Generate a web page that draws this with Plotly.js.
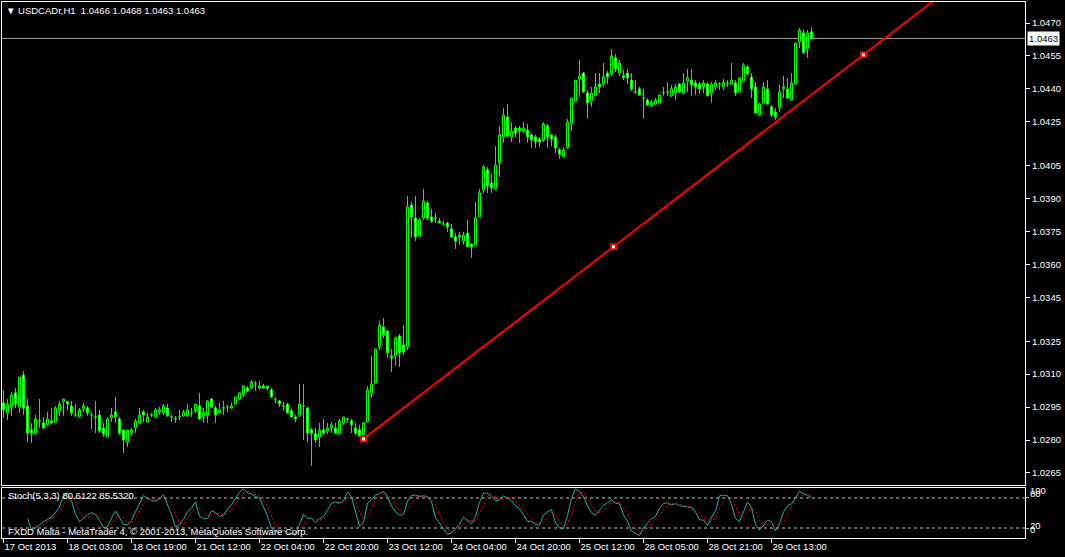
<!DOCTYPE html>
<html><head><meta charset="utf-8">
<script src="https://cdn.plot.ly/plotly-3.0.1.min.js"></script>
<style>html,body{margin:0;padding:0;background:#000;overflow:hidden}#chart{width:1065px;height:557px}</style>
</head><body><div id="chart"></div>
<script>
// USDCADr H1 candles (bar 0 = 17 Oct 2013 11:00 ... bar 202 = 29 Oct 23:00)
const openP = [1.02969,1.02923,1.02951,1.03015,1.02951,1.03096,1.02955,1.02846,1.02828,1.02887,
1.02878,1.02869,1.02887,1.02882,1.02933,1.02974,1.02974,1.02955,1.02914,1.02905,
1.02942,1.02946,1.02914,1.02905,1.02914,1.02855,1.02814,1.02901,1.02928,1.02896,
1.02846,1.02791,1.02832,1.02855,1.02878,1.02928,1.02882,1.02914,1.02905,1.02928,
1.02923,1.02946,1.02905,1.02896,1.02905,1.02910,1.02910,1.02923,1.02933,1.02955,
1.02905,1.02914,1.02987,1.02946,1.02923,1.02946,1.02951,1.02946,1.02964,1.02987,
1.03005,1.03037,1.03037,1.03056,1.03037,1.03046,1.03046,1.03028,1.02983,1.02978,
1.02955,1.02964,1.02933,1.02905,1.02914,1.02955,1.02946,1.02846,1.02828,1.02814,
1.02846,1.02841,1.02855,1.02855,1.02828,1.02878,1.02896,1.02887,1.02855,1.02846,
1.02823,1.02882,1.03010,1.03060,1.03224,1.03315,1.03297,1.03183,1.03183,1.03274,
1.03233,1.03224,1.03871,1.03812,1.03730,1.03812,1.03880,1.03816,1.03812,1.03798,
1.03784,1.03789,1.03762,1.03725,1.03725,1.03707,1.03743,1.03693,1.03689,1.03816,
1.03939,1.04031,1.03971,1.03944,1.04062,1.04181,1.04272,1.04181,1.04222,1.04222,
1.04208,1.04213,1.04190,1.04181,1.04172,1.04167,1.04231,1.04190,1.04181,1.04122,
1.04090,1.04131,1.04240,1.04345,1.04445,1.04472,1.04381,1.04345,1.04372,1.04422,
1.04422,1.04472,1.04468,1.04541,1.04472,1.04459,1.04472,1.04440,1.04386,1.04400,
1.04358,1.04349,1.04322,1.04331,1.04336,1.04381,1.04386,1.04368,1.04381,1.04422,
1.04381,1.04436,1.04440,1.04427,1.04422,1.04409,1.04422,1.04381,1.04409,1.04422,
1.04409,1.04427,1.04422,1.04427,1.04386,1.04436,1.04500,1.04454,1.04409,1.04281,
1.04336,1.04400,1.04318,1.04295,1.04313,1.04400,1.04400,1.04349,1.04422,1.04614,
1.04655,1.04582,1.0466];
const highP = [1.03028,1.02987,1.03019,1.03037,1.03087,1.03115,1.02987,1.02878,1.02914,1.02987,
1.02905,1.02928,1.02946,1.02955,1.02978,1.02987,1.02978,1.02978,1.02964,1.02946,
1.02969,1.02955,1.02928,1.02978,1.02937,1.02878,1.02905,1.02946,1.02996,1.02905,
1.02846,1.02846,1.02855,1.02896,1.02946,1.02937,1.02923,1.02923,1.02946,1.02951,
1.02964,1.02964,1.02914,1.02910,1.02937,1.02937,1.02964,1.02946,1.02964,1.03015,
1.02946,1.02983,1.02992,1.02955,1.02969,1.02978,1.02960,1.02969,1.02996,1.03015,
1.03051,1.03046,1.03074,1.03069,1.03069,1.03056,1.03046,1.03037,1.02996,1.02983,
1.02974,1.02969,1.02942,1.02914,1.03056,1.03056,1.02951,1.02855,1.02855,1.02878,
1.02896,1.02878,1.02882,1.02878,1.02896,1.02905,1.02896,1.02896,1.02878,1.02869,
1.02882,1.03046,1.03183,1.03215,1.03343,1.03356,1.03297,1.03215,1.03270,1.03283,
1.03324,1.03912,1.03885,1.03912,1.03812,1.03944,1.03889,1.03853,1.03835,1.03812,
1.03798,1.03794,1.03784,1.03743,1.03748,1.03748,1.03803,1.03693,1.03885,1.03944,
1.04053,1.04044,1.04012,1.04140,1.04231,1.04313,1.04331,1.04249,1.04231,1.04231,
1.04249,1.04240,1.04199,1.04190,1.04181,1.04249,1.04240,1.04190,1.04190,1.04131,
1.04135,1.04263,1.04358,1.04440,1.04532,1.04477,1.04395,1.04409,1.04472,1.04472,
1.04518,1.04482,1.04582,1.04559,1.04532,1.04486,1.04491,1.04472,1.04440,1.04409,
1.04400,1.04358,1.04349,1.04358,1.04377,1.04409,1.04431,1.04418,1.04422,1.04427,
1.04472,1.04491,1.04491,1.04440,1.04431,1.04440,1.04431,1.04431,1.04440,1.04431,
1.04445,1.04440,1.04518,1.04440,1.04454,1.04518,1.04509,1.04472,1.04431,1.04336,
1.04431,1.04440,1.04327,1.04313,1.04418,1.04459,1.04450,1.04472,1.04609,1.04677,
1.04668,1.04668,1.0468];
const lowP = [1.02901,1.02891,1.02910,1.02946,1.02923,1.02914,1.02791,1.02787,1.02823,1.02855,
1.02850,1.02864,1.02873,1.02878,1.02910,1.02910,1.02937,1.02910,1.02905,1.02901,
1.02928,1.02910,1.02850,1.02832,1.02832,1.02814,1.02814,1.02882,1.02878,1.02823,
1.02741,1.02768,1.02823,1.02832,1.02873,1.02882,1.02878,1.02905,1.02901,1.02914,
1.02914,1.02905,1.02882,1.02878,1.02891,1.02905,1.02905,1.02905,1.02923,1.02891,
1.02878,1.02878,1.02946,1.02878,1.02923,1.02914,1.02928,1.02942,1.02960,1.02983,
1.02996,1.03019,1.03033,1.03024,1.03028,1.03033,1.03024,1.02992,1.02969,1.02951,
1.02933,1.02923,1.02901,1.02882,1.02905,1.02800,1.02791,1.02682,1.02787,1.02768,
1.02823,1.02828,1.02832,1.02828,1.02823,1.02869,1.02878,1.02832,1.02823,1.02814,
1.02814,1.02878,1.02992,1.03056,1.03210,1.03265,1.03174,1.03110,1.03138,1.03133,
1.03188,1.03210,1.03721,1.03707,1.03725,1.03803,1.03803,1.03789,1.03789,1.03789,
1.03780,1.03748,1.03721,1.03671,1.03689,1.03689,1.03680,1.03630,1.03689,1.03816,
1.03926,1.03926,1.03926,1.03939,1.03999,1.04154,1.04181,1.04158,1.04181,1.04154,
1.04199,1.04154,1.04131,1.04131,1.04135,1.04158,1.04131,1.04140,1.04108,1.04081,
1.04090,1.04126,1.04208,1.04345,1.04363,1.04381,1.04263,1.04318,1.04368,1.04381,
1.04409,1.04422,1.04459,1.04477,1.04459,1.04440,1.04422,1.04390,1.04377,1.04368,
1.04263,1.04322,1.04318,1.04327,1.04336,1.04368,1.04368,1.04363,1.04349,1.04381,
1.04377,1.04386,1.04368,1.04372,1.04377,1.04381,1.04368,1.04336,1.04395,1.04395,
1.04395,1.04409,1.04418,1.04368,1.04381,1.04431,1.04463,1.04358,1.04286,1.04277,
1.04331,1.04327,1.04272,1.04258,1.04295,1.04358,1.04354,1.04345,1.04418,1.04586,
1.04564,1.04541,1.0463];
const closeP = [1.02937,1.02964,1.03005,1.02964,1.03087,1.02946,1.02832,1.02832,1.02896,1.02887,
1.02855,1.02896,1.02878,1.02946,1.02964,1.02987,1.02964,1.02923,1.02914,1.02937,
1.02955,1.02923,1.02914,1.02905,1.02841,1.02828,1.02896,1.02914,1.02905,1.02832,
1.02800,1.02846,1.02846,1.02887,1.02914,1.02914,1.02905,1.02914,1.02937,1.02937,
1.02955,1.02910,1.02905,1.02896,1.02905,1.02928,1.02937,1.02923,1.02964,1.02896,
1.02928,1.02978,1.02951,1.02914,1.02937,1.02946,1.02951,1.02955,1.02996,1.03015,
1.03046,1.03024,1.03065,1.03056,1.03046,1.03037,1.03037,1.02996,1.02983,1.02964,
1.02955,1.02923,1.02905,1.02896,1.02964,1.02955,1.02832,1.02832,1.02800,1.02846,
1.02832,1.02855,1.02869,1.02832,1.02887,1.02905,1.02896,1.02869,1.02832,1.02819,
1.02878,1.03028,1.03056,1.03215,1.03324,1.03279,1.03197,1.03174,1.03265,1.03197,
1.03201,1.03862,1.03816,1.03725,1.03803,1.03889,1.03812,1.03798,1.03812,1.03789,
1.03784,1.03771,1.03725,1.03707,1.03734,1.03734,1.03680,1.03680,1.03812,1.03926,
1.04044,1.03958,1.03949,1.04053,1.04190,1.04281,1.04185,1.04208,1.04199,1.04208,
1.04222,1.04181,1.04167,1.04158,1.04158,1.04240,1.04181,1.04172,1.04131,1.04103,
1.04122,1.04249,1.04358,1.04440,1.04459,1.04386,1.04336,1.04381,1.04409,1.04409,
1.04454,1.04454,1.04550,1.04491,1.04518,1.04450,1.04450,1.04400,1.04386,1.04372,
1.04358,1.04327,1.04340,1.04349,1.04372,1.04381,1.04386,1.04400,1.04409,1.04386,
1.04427,1.04450,1.04418,1.04409,1.04400,1.04427,1.04368,1.04422,1.04427,1.04422,
1.04431,1.04427,1.04440,1.04381,1.04450,1.04509,1.04468,1.04400,1.04290,1.04331,
1.04409,1.04331,1.04281,1.04272,1.04386,1.04409,1.04358,1.04427,1.04609,1.04668,
1.04564,1.04655,1.0463];

const timeLabelBars = [0,16,32,48,64,80,96,112,128,144,160,176,192];
const timeLabels = ["17 Oct 2013","18 Oct 03:00","18 Oct 19:00","21 Oct 12:00","22 Oct 04:00",
  "22 Oct 20:00","23 Oct 12:00","24 Oct 04:00","24 Oct 20:00","25 Oct 12:00",
  "28 Oct 05:00","28 Oct 21:00","29 Oct 13:00"];
const priceTicks = [1.0470,1.0455,1.0440,1.0425,1.0405,1.0390,1.0375,1.0360,1.0345,1.0325,1.0310,1.0295,1.0280,1.0265];
const trendBars = [90, 215];
const trendPrices = [1.02805, 1.04556];
const stochLevels = [20, 80];
const stochParams = [5, 3, 3];
const stochHeader = "Stoch(5,3,3) 80.6122 85.5320";
const symbolName = "USDCADr,H1";
const copyrightText = "FXDD Malta - MetaTrader 4, \u00a9 2001-2013, MetaQuotes Software Corp.";

const n = closeP.length;
const idx = closeP.map((_, i) => i);

// Stochastic oscillator (%K period, slowing, %D period) from the candles above
function stochastic(kP, slow, dP) {
  const K = new Array(n).fill(null), D = new Array(n).fill(null);
  for (let i = kP - 1 + slow - 1; i < n; i++) {
    let num = 0, den = 0;
    for (let j = i - slow + 1; j <= i; j++) {
      let ll = Infinity, hh = -Infinity;
      for (let m = j - kP + 1; m <= j; m++) { ll = Math.min(ll, lowP[m]); hh = Math.max(hh, highP[m]); }
      num += closeP[j] - ll; den += hh - ll;
    }
    K[i] = den > 0 ? 100 * num / den : 100;
  }
  for (let i = 0; i < n; i++) {
    if (i - dP + 1 < 0) continue;
    let s = 0, ok = true;
    for (let j = i - dP + 1; j <= i; j++) { if (K[j] === null) { ok = false; break; } s += K[j]; }
    if (ok) D[i] = s / dP;
  }
  return [K, D];
}
const [stK, stD] = stochastic(stochParams[0], stochParams[1], stochParams[2]);

const FONT = "Liberation Sans, Arial, DejaVu Sans, sans-serif";
const GREEN = "#00ff00";
const xRange = [-0.375, 255.375];

const slope = (trendPrices[1] - trendPrices[0]) / (trendBars[1] - trendBars[0]);
const rayEnd = xRange[1] + 5;
const midBar = (trendBars[0] + trendBars[1]) / 2;
const midPrice = (trendPrices[0] + trendPrices[1]) / 2;

const traces = [
  {
    type: "candlestick", x: idx, open: openP, high: highP, low: lowP, close: closeP,
    xaxis: "x", yaxis: "y", whiskerwidth: 0, hoverinfo: "skip",
    increasing: { line: { color: GREEN, width: 1 }, fillcolor: "#000000" },
    decreasing: { line: { color: GREEN, width: 1 }, fillcolor: "#ffffff" }
  },
  {
    type: "scatter", mode: "lines", x: [trendBars[0], rayEnd],
    y: [trendPrices[0], trendPrices[0] + slope * (rayEnd - trendBars[0])],
    xaxis: "x", yaxis: "y", line: { color: "#ff0000", width: 2 }, hoverinfo: "skip"
  },
  {
    type: "scatter", mode: "markers", x: [trendBars[0], midBar, trendBars[1]],
    y: [trendPrices[0], midPrice, trendPrices[1]], xaxis: "x", yaxis: "y", cliponaxis: true,
    marker: { symbol: "square", size: 5, color: "#ffffff", line: { color: "#ff0000", width: 2 } },
    hoverinfo: "skip"
  },
  {
    type: "scatter", mode: "lines", x: idx, y: stK, xaxis: "x2", yaxis: "y2",
    line: { color: "#20b2aa", width: 1 }, hoverinfo: "skip", connectgaps: false
  },
  {
    type: "scatter", mode: "lines", x: idx, y: stD, xaxis: "x2", yaxis: "y2",
    line: { color: "#ff0000", width: 1, dash: "2px,2px" }, hoverinfo: "skip"
  }
];

const lastClose = closeP[n - 1];
const hdr = "\u25BC " + symbolName + "\u00a0\u00a0" + openP[n-1].toFixed(4) + " " + highP[n-1].toFixed(4) + " " + lowP[n-1].toFixed(4) + " " + closeP[n-1].toFixed(4);

const shapes = [
  { type: "line", xref: "paper", x0: 0, x1: 1, yref: "y", y0: lastClose, y1: lastClose,
    line: { color: "#a0a0a0", width: 1 }, layer: "below" }
].concat(stochLevels.map(v => ({
  type: "line", xref: "paper", x0: 0, x1: 1, yref: "y2", y0: v, y1: v,
  line: { color: "#c0c0c0", width: 1, dash: "3px,3px" }, layer: "below"
})));

const annotations = [
  { text: hdr, xref: "paper", yref: "paper", x: 0, y: 1, xanchor: "left", yanchor: "top",
    xshift: 2, yshift: -1, showarrow: false, font: { family: FONT, size: 9.5, color: "#ffffff" } },
  { text: stochHeader, xref: "paper", yref: "y2", x: 0, y: 84, xanchor: "left", yanchor: "middle",
    xshift: 4, showarrow: false, font: { family: FONT, size: 9.5, color: "#ffffff" } },
  { text: copyrightText, xref: "paper", yref: "y2", x: 0, y: 14, xanchor: "left", yanchor: "middle",
    xshift: 4, showarrow: false, font: { family: FONT, size: 9.5, color: "#ffffff" } },
  { text: lastClose.toFixed(4), xref: "paper", yref: "y", x: 1, y: lastClose, xanchor: "left", yanchor: "middle",
    xshift: 2, showarrow: false, bgcolor: "#ffffff", borderpad: 1,
    font: { family: FONT, size: 9.5, color: "#000000" } },
  { text: "100", xref: "paper", yref: "y2", x: 1, y: 94, xanchor: "left", yanchor: "middle", xshift: 3,
    showarrow: false, font: { family: FONT, size: 9.5, color: "#ffffff" } },
  { text: "80", xref: "paper", yref: "y2", x: 1, y: 88, xanchor: "left", yanchor: "middle", xshift: 3,
    showarrow: false, font: { family: FONT, size: 9.5, color: "#ffffff" } },
  { text: "20", xref: "paper", yref: "y2", x: 1, y: 26, xanchor: "left", yanchor: "middle", xshift: 3,
    showarrow: false, font: { family: FONT, size: 9.5, color: "#ffffff" } },
  { text: "0", xref: "paper", yref: "y2", x: 1, y: 18, xanchor: "left", yanchor: "middle", xshift: 3,
    showarrow: false, font: { family: FONT, size: 9.5, color: "#ffffff" } }
];

const axBase = { showgrid: false, zeroline: false, showline: true, mirror: true, linecolor: "#ffffff",
  linewidth: 1, fixedrange: true };

const layout = {
  width: 1065, height: 557,
  paper_bgcolor: "#000000", plot_bgcolor: "#000000",
  margin: { l: 2, r: 40, t: 2, b: 19, pad: 0 },
  showlegend: false, hovermode: false,
  font: { family: FONT, size: 9.5, color: "#ffffff" },
  xaxis: Object.assign({}, axBase, { domain: [0, 1], range: xRange, anchor: "y", showticklabels: false,
    ticks: "", rangeslider: { visible: false } }),
  yaxis: Object.assign({}, axBase, { domain: [0.0989, 1], range: [1.02595, 1.04796], anchor: "x",
    side: "right", tickmode: "array", tickvals: priceTicks, ticktext: priceTicks.map(v => v.toFixed(4)),
    ticks: "outside", ticklen: 4, tickcolor: "#ffffff", tickwidth: 1,
    tickfont: { family: FONT, size: 9.5, color: "#ffffff" } }),
  xaxis2: Object.assign({}, axBase, { domain: [0, 1], range: xRange, anchor: "y2",
    tickmode: "array", tickvals: timeLabelBars, ticktext: timeLabels, ticks: "outside", ticklen: 4,
    tickcolor: "#ffffff", ticklabelposition: "outside right",
    tickfont: { family: FONT, size: 9.5, color: "#ffffff" } }),
  yaxis2: Object.assign({}, axBase, { domain: [0, 0.0933], range: [0, 100], anchor: "x2", side: "right",
    tickmode: "array", tickvals: stochLevels, ticks: "outside", ticklen: 3, tickcolor: "#c0c0c0",
    showticklabels: false }),
  shapes: shapes,
  annotations: annotations
};

Plotly.newPlot("chart", traces, layout, { staticPlot: true, displayModeBar: false });
</script>
</body></html>
